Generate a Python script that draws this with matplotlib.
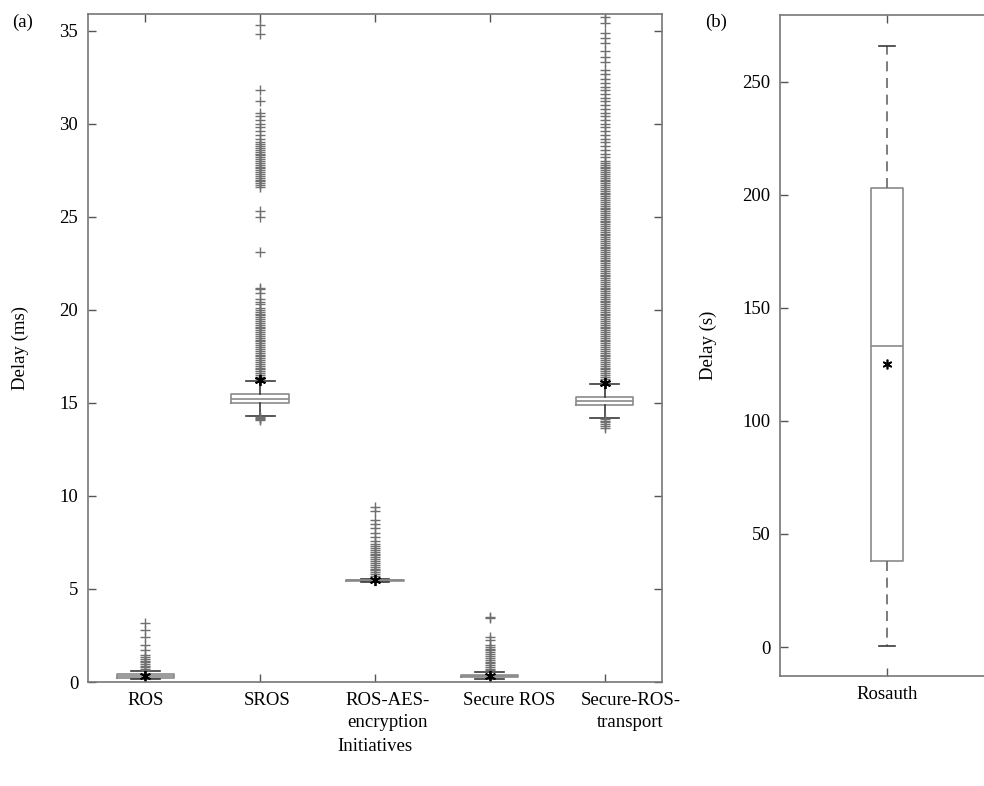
import matplotlib
matplotlib.use("Agg")
import matplotlib.pyplot as plt
from matplotlib.transforms import ScaledTranslation

plt.rcParams['font.family'] = ['Liberation Serif', 'DejaVu Serif']
plt.rcParams['font.size'] = 13.5

# ---- panel (a) data, delays in ms ----
initiatives = ["ROS", "SROS", "ROS-AES-\nencryption", "Secure ROS", "Secure-ROS-\ntransport"]
q1 = [0.22, 15.0, 5.42, 0.27, 14.9]
med = [0.32, 15.2, 5.46, 0.32, 15.1]
q3 = [0.43, 15.48, 5.50, 0.38, 15.3]
whis_lo = [0.16, 14.3, 5.38, 0.15, 14.2]
whis_hi = [0.60, 16.18, 5.56, 0.55, 16.0]
means = [0.32, 16.25, 5.50, 0.30, 16.07]

ros_fliers = [3.15, 2.8, 2.4, 2.0, 1.7, 1.45, 1.35, 1.25, 1.15, 1.05, 0.95,
              0.85, 0.78, 0.72, 0.66]
sros_fliers = [35.3, 34.8, 31.8, 31.2, 30.6, 30.4, 30.2, 30.0, 29.8, 29.6, 29.4,
               29.2, 29.0, 28.9, 28.8, 28.7, 28.6, 28.5, 28.4, 28.3, 28.2, 28.1,
               28.0, 27.9, 27.8, 27.7, 27.6, 27.5, 27.4, 27.3, 27.2, 27.1, 27.0,
               26.9, 26.8, 26.7, 26.6, 25.3, 25.0, 23.1,
               21.2, 21.1, 20.9, 20.6, 20.4, 20.3, 20.1, 20.0, 19.9, 19.8, 19.7,
               19.6, 19.5, 19.4, 19.3, 19.2, 19.1, 19.0, 18.9, 18.8, 18.7, 18.6,
               18.5, 18.4, 18.3, 18.2, 18.1, 18.0, 17.9, 17.8, 17.7, 17.6, 17.5,
               17.4, 17.3, 17.2, 17.1, 17.0, 16.9, 16.8, 16.7, 16.6, 16.5, 16.4,
               16.3, 14.25, 14.2, 14.15, 14.1]
aes_fliers = [9.4, 9.2, 8.7, 8.5, 8.3, 8.0, 7.8, 7.6, 7.4, 7.3, 7.2, 7.1, 7.0,
              6.9, 6.8, 6.7, 6.6, 6.5, 6.4, 6.3, 6.2, 6.1, 6.0, 5.9, 5.8, 5.7, 5.6]
secure_fliers = [3.5, 3.45, 2.4, 2.25, 2.0, 1.9, 1.8, 1.7, 1.6, 1.5, 1.4, 1.3,
                 1.2, 1.1, 1.0, 0.9, 0.8, 0.7, 0.62]
transport_fliers = [35.75, 35.4, 34.9, 34.6, 34.35, 33.9, 33.6, 33.3, 32.9, 32.7,
                    32.4, 32.2, 32.0, 31.8, 31.6, 31.4, 31.2, 31.0, 30.8, 30.6,
                    30.4, 30.2, 30.0, 29.8, 29.6, 29.4, 29.2, 29.0, 28.8, 28.6,
                    28.4, 28.2, 28.0, 27.9, 27.8, 27.7, 27.6, 27.5, 27.4, 27.3,
                    27.2, 27.1, 27.0, 26.9, 26.8, 26.7, 26.6, 26.5, 26.4, 26.3,
                    26.2, 26.1, 26.0, 25.9, 25.8, 25.7, 25.6, 25.5, 25.4, 25.3,
                    25.2, 25.1, 25.0, 24.9, 24.8, 24.7, 24.6, 24.5, 24.4, 24.3,
                    24.2, 24.1, 24.0, 23.9, 23.8, 23.7, 23.6, 23.5, 23.4, 23.3,
                    23.2, 23.1, 23.0, 22.9, 22.8, 22.7, 22.6, 22.5, 22.4, 22.3,
                    22.2, 22.1, 22.0, 21.9, 21.8, 21.7, 21.6, 21.5, 21.4, 21.3,
                    21.2, 21.1, 21.0, 20.9, 20.8, 20.7, 20.6, 20.5, 20.4, 20.3,
                    20.2, 20.1, 20.0, 19.9, 19.8, 19.7, 19.6, 19.5, 19.4, 19.3,
                    19.2, 19.1, 19.0, 18.9, 18.8, 18.7, 18.6, 18.5, 18.4, 18.3,
                    18.2, 18.1, 18.0, 17.9, 17.8, 17.7, 17.6, 17.5, 17.4, 17.3,
                    17.2, 17.1, 17.0, 16.9, 16.8, 16.7, 16.6, 16.5, 16.4, 16.3,
                    16.2, 16.1, 14.15, 14.05, 13.95, 13.85, 13.75, 13.65]
fliers = [ros_fliers, sros_fliers, aes_fliers, secure_fliers, transport_fliers]

# ---- panel (b) data, delays in s ----
rosauth = {"label": "Rosauth", "q1": 38, "med": 133, "q3": 203,
           "whislo": 0.5, "whishi": 266, "mean": 125, "fliers": []}

grey = "#8a8a8a"
dark = "#3a3a3a"
asterisk = (6, 2, 0)

fig = plt.figure(figsize=(9.84, 7.86), dpi=100)
ax = fig.add_axes([0.0894, 0.1323, 0.5833, 0.8499])
bx = fig.add_axes([0.7927, 0.1400, 0.2175, 0.8410])

stats = []
for i in range(len(initiatives)):
    stats.append({"label": "", "q1": q1[i], "med": med[i], "q3": q3[i],
                  "whislo": whis_lo[i], "whishi": whis_hi[i], "mean": means[i],
                  "fliers": fliers[i]})

ax.bxp(stats, widths=0.5, capwidths=0.25, showmeans=True,
       boxprops=dict(color=grey, linewidth=1.2),
       medianprops=dict(color=grey, linewidth=1.2),
       whiskerprops=dict(color=dark, linewidth=1.2),
       capprops=dict(color=dark, linewidth=1.2),
       flierprops=dict(marker="+", markeredgecolor="#707070", markersize=7,
                       markeredgewidth=1.0, linestyle="none"),
       meanprops=dict(marker=asterisk, markerfacecolor="black", markeredgecolor="black",
                      markersize=8, markeredgewidth=1.3))
ax.set_xlim(0.5, 5.5)
ax.set_ylim(0, 35.9)
ax.set_yticks([0, 5, 10, 15, 20, 25, 30, 35])
ax.set_xticks(range(1, len(initiatives) + 1))
ax.set_xticklabels([])
ax.set_ylabel("Delay (ms)", labelpad=22)

# the category names sit slightly right of their boxes in the original
offsets = [0, 7, 13, 19, 26]
xt = ax.get_xaxis_transform()
for i, name in enumerate(initiatives):
    ax.text(i + 1, 0, name, ha="center", va="top", linespacing=1.35,
            transform=xt + ScaledTranslation(offsets[i] / 100, -0.1, fig.dpi_scale_trans))
fig.text(0.381, 0.050, "Initiatives", ha="center", va="center")

bx.bxp([rosauth], widths=0.15, capwidths=0.075, showmeans=True,
       boxprops=dict(color=grey, linewidth=1.2),
       medianprops=dict(color=grey, linewidth=1.2),
       whiskerprops=dict(color="#666666", linewidth=1.2, linestyle=(0, (6, 4))),
       capprops=dict(color=dark, linewidth=1.2),
       meanprops=dict(marker=asterisk, markerfacecolor="black", markeredgecolor="black",
                      markersize=7, markeredgewidth=1.2))
bx.set_xlim(0.5, 1.5)
bx.set_ylim(-12.8, 279.6)
bx.set_yticks([0, 50, 100, 150, 200, 250])
bx.set_ylabel("Delay (s)", labelpad=18)

for a in (ax, bx):
    a.tick_params(direction="in", top=True, right=True, length=6, width=1,
                  color="#555555", pad=7)
    for s in a.spines.values():
        s.set_color("#777777")
        s.set_linewidth(1.2)

fig.text(0.012, 0.982, "(a)", va="top")
fig.text(0.717, 0.982, "(b)", va="top")

fig.savefig("out.png", dpi=100)
